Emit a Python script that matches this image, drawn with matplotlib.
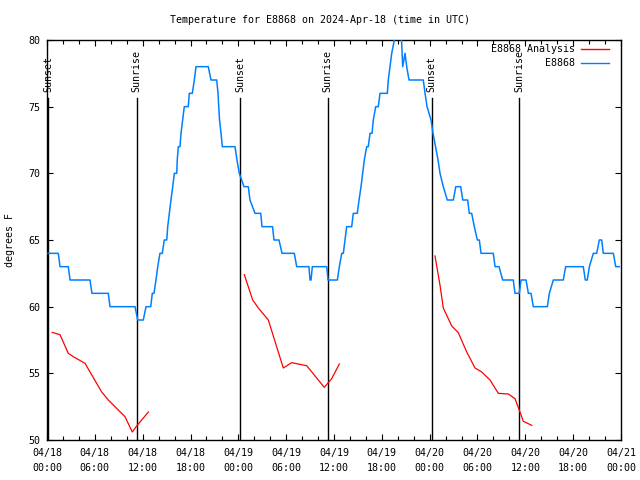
import numpy as np
import matplotlib
matplotlib.use("Agg")
import matplotlib.pyplot as plt
from matplotlib.ticker import MultipleLocator

# ---- data (hours since 2024-04-18 00:00 UTC) ----
obs_hours = [0.13, 1.42, 1.63, 2.67, 2.89, 5.39, 5.64, 7.69, 7.90, 11.04,
             11.38, 12.08, 12.42, 13.01, 13.21, 13.42, 13.67, 13.89, 14.17, 14.46,
             14.71, 15.02, 15.14, 15.34, 15.55, 15.77, 15.97, 16.27, 16.34, 16.47,
             16.68, 16.81, 17.02, 17.22, 17.72, 17.85, 18.23, 18.48, 18.69, 20.23,
             20.57, 21.29, 21.45, 21.64, 21.83, 21.99, 23.58, 23.83, 24.12, 24.71,
             25.25, 25.46, 26.09, 26.81, 26.97, 28.29, 28.47, 29.10, 29.48, 31.02,
             31.32, 32.86, 32.99, 33.12, 33.28, 35.09, 35.25, 36.42, 36.67, 36.97,
             37.17, 37.38, 37.59, 38.22, 38.42, 38.92, 39.14, 39.39, 39.60, 39.80,
             40.10, 40.30, 40.52, 40.77, 40.93, 41.23, 41.56, 41.77, 42.69, 42.81,
             43.03, 43.24, 43.57, 43.78, 44.28, 44.47, 44.62, 44.91, 45.12, 45.41,
             47.20, 47.42, 47.67, 48.17, 48.42, 48.73, 49.05, 49.30, 49.71, 50.21,
             50.97, 51.27, 51.89, 52.15, 52.77, 52.97, 53.27, 53.60, 53.98, 54.23,
             54.44, 55.98, 56.20, 56.70, 57.16, 58.49, 58.70, 59.24, 59.46, 60.09,
             60.38, 60.71, 61.00, 62.76, 63.01, 63.51, 64.76, 65.06, 67.27, 67.52,
             67.77, 68.03, 68.53, 68.95, 69.28, 69.58, 69.78, 71.04, 71.34, 71.79]
obs_temp = [64, 64, 63, 63, 62, 62, 61, 61, 60, 60,
            59, 59, 60, 60, 61, 61, 62, 63, 64, 64,
            65, 65, 66, 67, 68, 69, 70, 70, 71, 72,
            72, 73, 74, 75, 75, 76, 76, 77, 78, 78,
            77, 77, 76, 74, 73, 72, 72, 71, 70, 69,
            69, 68, 67, 67, 66, 66, 65, 65, 64, 64,
            63, 63, 62, 62, 63, 63, 62, 62, 63, 64,
            64, 65, 66, 66, 67, 67, 68, 69, 70, 71,
            72, 72, 73, 73, 74, 75, 75, 76, 76, 77,
            78, 79, 80, 81, 81, 80, 78, 79, 78, 77,
            77, 76, 75, 74, 73, 72, 71, 70, 69, 68,
            68, 69, 69, 68, 68, 67, 67, 66, 65, 65,
            64, 64, 63, 63, 62, 62, 61, 61, 62, 62,
            61, 61, 60, 60, 61, 62, 62, 63, 63, 62,
            62, 63, 64, 64, 65, 65, 64, 64, 63, 63]

# analysis runs (three separate segments)
ana1_hours = [0.66, 1.63, 2.67, 3.30, 4.77, 6.86, 7.69, 9.78, 10.70, 11.25, 12.71]
ana1_temp = [58.07, 57.9, 56.5, 56.25, 55.75, 53.6, 53.0, 51.75, 50.6, 51.05, 52.1]
ana2_hours = [24.75, 25.80, 26.51, 27.76, 29.64, 30.69, 32.58, 34.78, 35.21, 35.71, 36.67]
ana2_temp = [62.4, 60.5, 59.9, 59.0, 55.4, 55.8, 55.57, 53.95, 54.25, 54.6, 55.7]
ana3_hours = [48.67, 49.30, 49.71, 50.77, 51.59, 52.65, 53.69, 54.53, 55.57, 56.61,
              57.87, 58.70, 59.33, 59.75, 60.80]
ana3_temp = [63.8, 61.6, 59.9, 58.55, 58.05, 56.6, 55.4, 55.1, 54.5, 53.5,
             53.45, 53.1, 52.1, 51.4, 51.1]

sun_hours = [0.13, 11.25, 24.27, 35.19, 48.23, 59.24]
sun_names = ["Sunset", "Sunrise", "Sunset", "Sunrise", "Sunset", "Sunrise"]

tick_hours = [0, 6, 12, 18, 24, 30, 36, 42, 48, 54, 60, 66, 72]
tick_labels = ["04/18\n00:00", "04/18\n06:00", "04/18\n12:00", "04/18\n18:00",
               "04/19\n00:00", "04/19\n06:00", "04/19\n12:00", "04/19\n18:00",
               "04/20\n00:00", "04/20\n06:00", "04/20\n12:00", "04/20\n18:00",
               "04/21\n00:00"]

RED = "#ff0000"
BLUE = "#0080ff"
FS = 7.2

plt.rcParams["font.family"] = "DejaVu Sans Mono"
plt.rcParams["font.size"] = FS

fig = plt.figure(figsize=(6.4, 4.8), dpi=100)
ax = fig.add_axes([47 / 640, 40 / 480, 574 / 640, 400 / 480])

# sunrise / sunset markers
for h, name in zip(sun_hours, sun_names):
    ax.plot([h, h], [50, 75.63], color="black", lw=1.0, zorder=2)
    ax.text(h, 76.1, name, rotation=90, ha="center", va="bottom",
            fontsize=FS, zorder=3)

ax.plot(ana1_hours, ana1_temp, color=RED, lw=0.9, zorder=4)
ax.plot(ana2_hours, ana2_temp, color=RED, lw=0.9, zorder=4)
ax.plot(ana3_hours, ana3_temp, color=RED, lw=0.9, zorder=4)
ax.plot(obs_hours, obs_temp, color=BLUE, lw=1.1, zorder=4)

ax.set_xlim(0, 72)
ax.set_ylim(50, 80)
ax.set_xticks(tick_hours)
ax.set_xticklabels(tick_labels)
for t in ax.get_xticklabels():
    t.set_linespacing(1.6)
ax.xaxis.set_minor_locator(MultipleLocator(2))
ax.set_yticks([50, 55, 60, 65, 70, 75, 80])

ax.tick_params(which="both", direction="in", top=True, right=True,
               width=0.8, labelsize=FS)
ax.tick_params(which="major", length=4.5, pad=5)
ax.tick_params(axis="x", which="major", pad=6)
ax.tick_params(which="minor", length=3)
for s in ax.spines.values():
    s.set_linewidth(1.0)

# gnuplot-style key: right-aligned text, sample on the right
key = [("E8868 Analysis", RED), ("E8868", BLUE)]
for i, (label, col) in enumerate(key):
    yk = 0.9775 - i * 0.035
    ax.text(0.920, yk, label, transform=ax.transAxes, ha="right", va="center",
            fontsize=FS, zorder=5)
    ax.plot([0.930, 0.979], [yk, yk], transform=ax.transAxes, color=col,
            lw=1.0, zorder=5)

fig.text(0.5, 1 - 20 / 480, "Temperature for E8868 on 2024-Apr-18 (time in UTC)",
         ha="center", va="center", fontsize=FS)
fig.text(10 / 640, 0.5, "degrees F", rotation=90, ha="center", va="center",
         fontsize=FS)

fig.savefig("out.png", dpi=100)
